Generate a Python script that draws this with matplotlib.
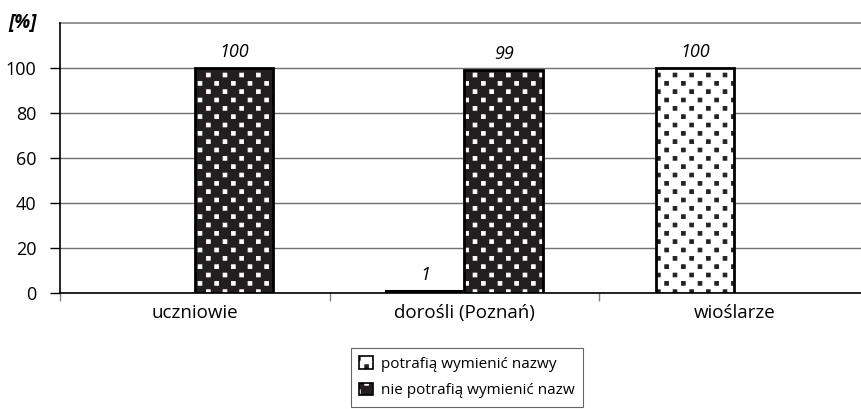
import numpy as np
import matplotlib.pyplot as plt
import matplotlib.hatch as mhatch
from matplotlib.patches import Patch
from matplotlib.path import Path

plt.rcParams['font.family'] = ['Open Sans', 'DejaVu Sans']
plt.rcParams['hatch.linewidth'] = 0.6

kategorie = ["uczniowie", "dorośli (Poznań)", "wioślarze"]
potrafia = [0, 1, 100]
nie_potrafia = [100, 99, 0]
seria = ["potrafią wymienić nazwy", "nie potrafią wymienić nazw"]

ciemny = "#231f20"


# deseń jak w Excelu: kwadratowe kropki ułożone w szachownicę
class KropkiKwadratowe(mhatch.HatchPatternBase):
    def __init__(self, hatch, density):
        self.kol = hatch.count('.') * density
        self.wie = 2 * self.kol
        if self.kol == 0:
            self.num_vertices = 0
        else:
            n = (self.wie // 2 + 1) * (self.kol + 1) + (self.wie // 2) * self.kol
            self.num_vertices = n * 5

    def set_vertices_and_codes(self, vertices, codes):
        s = 0.019
        kw = np.array([[-s, -s], [s, -s], [s, s], [-s, s], [-s, -s]])
        kc = [Path.MOVETO, Path.LINETO, Path.LINETO, Path.LINETO, Path.CLOSEPOLY]
        dx = 1.0 / self.kol
        v, c = [], []
        for r in range(self.wie + 1):
            if r % 2 == 0:
                xs = np.linspace(0, 1, self.kol + 1)
            else:
                xs = np.linspace(dx / 2, 1 - dx / 2, self.kol)
            for xx in xs:
                v.append(kw + [xx, r / self.wie])
                c.extend(kc)
        vertices[:] = np.concatenate(v)
        codes[:] = c


mhatch._hatch_types = [KropkiKwadratowe if t is mhatch.SmallFilledCircles else t
                       for t in mhatch._hatch_types]

fig = plt.figure(figsize=(8.62, 4.09), dpi=100)
ax = fig.add_axes([60 / 862, 1 - 293 / 409, 809 / 862, 270 / 409])

x = np.arange(len(kategorie))
w = 0.29


def slupki(pos, vals, fc, hc):
    # warstwa z deseniem, potem obrys
    ax.bar(pos, vals, w, color=fc, edgecolor=hc, hatch=".", linewidth=0, zorder=3)
    ax.bar(pos, vals, w, facecolor="none", edgecolor="black", linewidth=2, zorder=4)


def etykieta(pos, val):
    ax.annotate(str(val), (pos, val), xytext=(0, 5), textcoords="offset points",
                ha="center", va="bottom", fontsize=13, style="italic")


for i in range(len(kategorie)):
    if potrafia[i] > 0:
        if potrafia[i] >= 5:
            slupki(x[i] - w / 2, potrafia[i], "white", ciemny)
        else:
            ax.bar(x[i] - w / 2, potrafia[i], w, color="black", edgecolor="black",
                   linewidth=1.5, zorder=4)
        etykieta(x[i] - w / 2, potrafia[i])
    if nie_potrafia[i] > 0:
        slupki(x[i] + w / 2, nie_potrafia[i], ciemny, "white")
        etykieta(x[i] + w / 2, nie_potrafia[i])

ax.set_xlim(-0.5, 2.5)
ax.set_ylim(0, 120)
ax.set_yticks([0, 20, 40, 60, 80, 100])
ax.set_yticklabels(["0", "20", "40", "60", "80", "100"], fontsize=13)
ax.yaxis.grid(True, color="#707070", linewidth=1)
ax.axhline(120, color="#808080", linewidth=1.2, clip_on=False)
ax.set_axisbelow(True)

ax.set_xticks(x)
ax.set_xticklabels(kategorie, fontsize=13.5)
ax.tick_params(axis="x", length=0, pad=8)
ax.set_xticks([-0.5, 0.5, 1.5, 2.5], minor=True)
ax.tick_params(axis="x", which="minor", length=6, color="#808080", width=1)
ax.tick_params(axis="y", length=7, width=1, pad=10)

for s in ["top", "right"]:
    ax.spines[s].set_visible(False)
ax.spines["left"].set_linewidth(1.2)
ax.spines["bottom"].set_linewidth(1.2)

fig.text(8 / 862, 1 - 23 / 409, "[%]", fontsize=13.5, fontweight="bold",
         style="italic", va="center")

uchwyty = [(Patch(facecolor="white", edgecolor=ciemny, hatch=".", linewidth=0),
            Patch(facecolor="none", edgecolor="black", linewidth=1.2)),
           (Patch(facecolor=ciemny, edgecolor="white", hatch=".", linewidth=0),
            Patch(facecolor="none", edgecolor="black", linewidth=1.2))]
leg = fig.legend(uchwyty, seria, loc="upper center", bbox_to_anchor=(467 / 862, 1 - 348 / 409),
                 fontsize=11, frameon=True, fancybox=False, edgecolor="#404040",
                 handlelength=0.9, handleheight=0.9, handletextpad=0.5,
                 borderpad=0.55, labelspacing=0.7, borderaxespad=0)
leg.get_frame().set_linewidth(0.8)

fig.savefig("out.png", dpi=100)
